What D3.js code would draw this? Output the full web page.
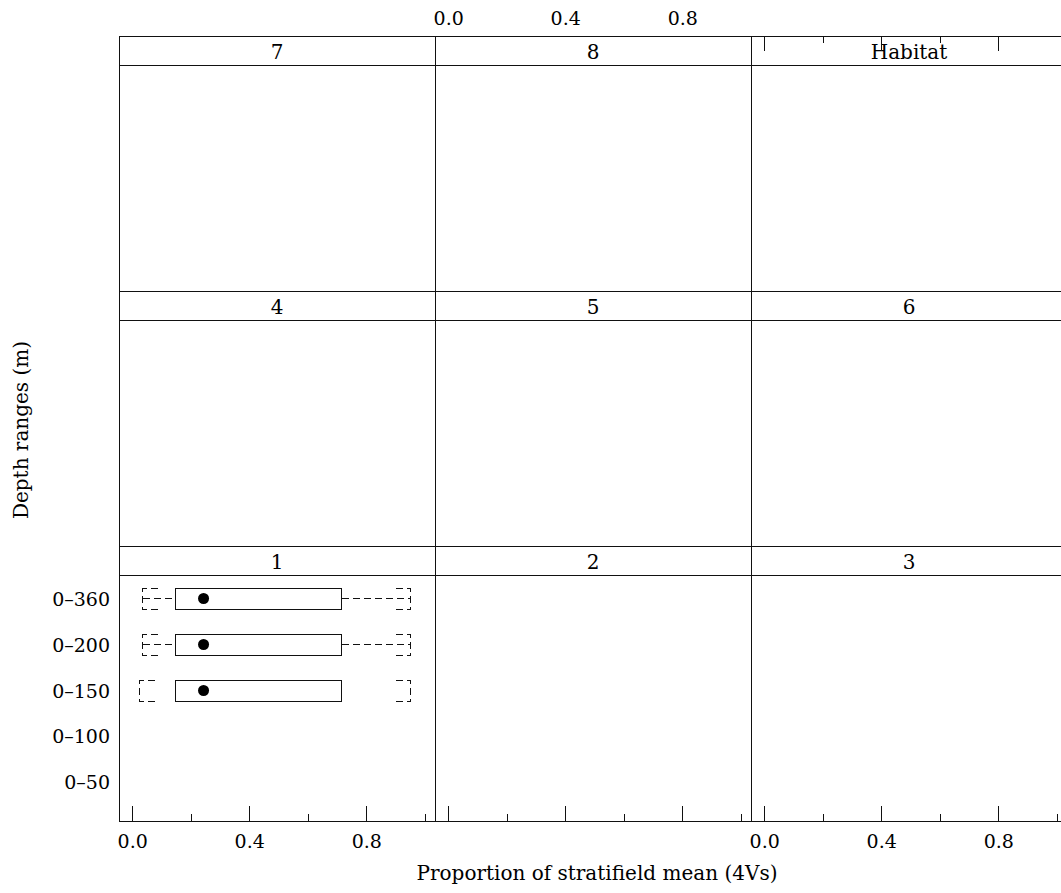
<!DOCTYPE html>
<html>
<head>
<meta charset="utf-8">
<script src="https://cdn.jsdelivr.net/npm/d3@7"></script>
<style>
  html, body { margin: 0; padding: 0; background: #fff; }
  svg { display: block; font-family: "DejaVu Serif", serif; }
  line, rect, path { shape-rendering: crispEdges; }
</style>
</head>
<body>
<svg id="chart" width="1061" height="893"></svg>
<script>
// Panel labels, laid out row by row from the top
const panelNames = ["7", "8", "Habitat", "4", "5", "6", "1", "2", "3"];
// Depth range categories (bottom to top)
const depthRanges = ["0–50", "0–100", "0–150", "0–200", "0–360"];
// X axis ticks
const majorTicks = [0, 0.4, 0.8];
const minorTicks = [0.2, 0.6, 1.0];
const tickLabels = ["0.0", "0.4", "0.8"];

// Box summaries drawn in panel "1"
const boxPanel = "1";
const boxRanges = ["0–360", "0–200", "0–150"];
const whiskerLow = [0.035, 0.035, 0.022];
const quartileLow = [0.145, 0.145, 0.145];
const medians = [0.244, 0.244, 0.244];
const quartileHigh = [0.714, 0.714, 0.714];
const whiskerHigh = [0.95, 0.95, 0.95];
const whiskerDrawn = [true, true, false];

const svg = d3.select("#chart");

// Layout
const colLeft = 119, colWidth = 316, stripH = 29;
const rows = [
  { stripTop: 36, panelTop: 65, panelBottom: 291 },
  { stripTop: 291, panelTop: 320, panelBottom: 546 },
  { stripTop: 546, panelTop: 575, panelBottom: 821 }
];
const xDomain = [-0.045, 1.035];
const labelSize = 19, titleSize = 20;
const majorLen = 15, minorLen = 7;
const ink = "#111";

const g = svg.append("g");

panelNames.forEach((name, i) => {
  const r = Math.floor(i / 3), c = i % 3;
  const row = rows[r];
  const x0 = colLeft + c * colWidth, x1 = x0 + colWidth;
  const x = d3.scaleLinear().domain(xDomain).range([x0, x1]);
  const pg = g.append("g").attr("class", "panel");

  // strip
  pg.append("rect")
    .attr("x", x0 + 0.5).attr("y", row.stripTop + 0.5)
    .attr("width", colWidth).attr("height", stripH)
    .attr("fill", "#fff").attr("stroke", ink).attr("stroke-width", 1);
  pg.append("text")
    .attr("x", (x0 + x1) / 2).attr("y", row.stripTop + stripH / 2 + 1)
    .attr("text-anchor", "middle").attr("dominant-baseline", "central")
    .attr("font-size", titleSize).text(name);

  // panel frame
  pg.append("rect")
    .attr("x", x0 + 0.5).attr("y", row.panelTop + 0.5)
    .attr("width", colWidth).attr("height", row.panelBottom - row.panelTop)
    .attr("fill", "none").attr("stroke", ink).attr("stroke-width", 1);

  // bottom ticks (pointing inward) on the lowest row
  if (r === 2) {
    const axis = d3.axisTop(x).tickValues(majorTicks.concat(minorTicks))
      .tickFormat("")
      .tickSizeInner(0).tickSizeOuter(0);
    const ag = pg.append("g").attr("transform", `translate(0,${row.panelBottom})`).call(axis);
    ag.select(".domain").remove();
    ag.selectAll(".tick line")
      .attr("y2", d => majorTicks.includes(d) ? -majorLen : -minorLen)
      .attr("stroke", ink);
    if (c !== 1) {
      const lab = d3.axisBottom(x).tickValues(majorTicks)
        .tickFormat((d, k) => tickLabels[k]).tickSize(0).tickPadding(0);
      const lg = pg.append("g").attr("transform", `translate(0,${row.panelBottom + 20})`).call(lab);
      lg.select(".domain").remove();
      lg.selectAll("text").attr("font-size", labelSize)
        .attr("font-family", "DejaVu Serif, serif").attr("fill", "#000")
        .attr("dy", null).attr("dominant-baseline", "central");
    }
  }
  // top axis: labels above the middle column, ticks on the right column
  if (r === 0 && c === 1) {
    const lab = d3.axisTop(x).tickValues(majorTicks)
      .tickFormat((d, k) => tickLabels[k]).tickSize(0).tickPadding(0);
    const lg = pg.append("g").attr("transform", `translate(0,18)`).call(lab);
    lg.select(".domain").remove();
    lg.selectAll("text").attr("font-size", labelSize)
      .attr("font-family", "DejaVu Serif, serif").attr("fill", "#000")
      .attr("dy", null).attr("dominant-baseline", "central");
  }
  if (r === 0 && c === 2) {
    const topVals = majorTicks.concat(minorTicks).filter(v => v < 1);
    const axis = d3.axisBottom(x).tickValues(topVals).tickFormat("")
      .tickSizeInner(0).tickSizeOuter(0);
    const ag = pg.append("g").attr("transform", `translate(0,${row.stripTop})`).call(axis);
    ag.select(".domain").remove();
    ag.selectAll(".tick line")
      .attr("y2", d => majorTicks.includes(d) ? majorLen : minorLen)
      .attr("stroke", ink);
  }

  // box plots
  if (name === boxPanel) {
    const y = d3.scaleLinear().domain([0.13, 5.5]).range([row.panelBottom, row.panelTop]);
    const boxH = 21, capW = 15;
    const dash = "7,4";
    boxRanges.forEach((rng, k) => {
      const cy = Math.round(y(depthRanges.indexOf(rng) + 1)) + 0.5;
      const top = Math.round(cy - boxH / 2) + 0.5, bot = top + boxH;
      const b = pg.append("g");
      const xl = Math.round(x(whiskerLow[k])) + 0.5, xh = Math.round(x(whiskerHigh[k])) + 0.5;
      const q1 = Math.round(x(quartileLow[k])) + 0.5, q3 = Math.round(x(quartileHigh[k])) + 0.5;
      if (whiskerDrawn[k]) {
        b.append("line").attr("x1", xl).attr("x2", q1)
          .attr("y1", cy).attr("y2", cy)
          .attr("stroke", ink).attr("stroke-width", 1.2).attr("stroke-dasharray", dash);
        b.append("line").attr("x1", q3).attr("x2", xh)
          .attr("y1", cy).attr("y2", cy)
          .attr("stroke", ink).attr("stroke-width", 1.2).attr("stroke-dasharray", dash);
      }
      b.append("path")
        .attr("d", `M${xl + capW},${top}H${xl}V${bot}H${xl + capW}`)
        .attr("fill", "none").attr("stroke", ink).attr("stroke-width", 1.2).attr("stroke-dasharray", dash);
      b.append("path")
        .attr("d", `M${xh - capW},${top}H${xh}V${bot}H${xh - capW}`)
        .attr("fill", "none").attr("stroke", ink).attr("stroke-width", 1.2).attr("stroke-dasharray", dash);
      b.append("rect")
        .attr("x", q1).attr("y", top)
        .attr("width", q3 - q1).attr("height", boxH)
        .attr("fill", "#fff").attr("stroke", ink).attr("stroke-width", 1);
      b.append("circle")
        .attr("cx", x(medians[k])).attr("cy", cy).attr("r", 5.5).attr("fill", "#000");
    });

    // category labels on the left
    depthRanges.forEach((rng, k) => {
      svg.append("text")
        .attr("x", 110).attr("y", y(k + 1) + 1)
        .attr("text-anchor", "end").attr("dominant-baseline", "central")
        .attr("font-size", labelSize).text(rng);
    });
  }
});

// axis titles
svg.append("text")
  .attr("x", 597).attr("y", 873)
  .attr("text-anchor", "middle").attr("dominant-baseline", "central")
  .attr("font-size", titleSize).text("Proportion of stratifield mean (4Vs)");
svg.append("text")
  .attr("transform", "translate(21,430) rotate(-90)")
  .attr("text-anchor", "middle").attr("dominant-baseline", "central")
  .attr("font-size", titleSize).text("Depth ranges (m)");
</script>
</body>
</html>
